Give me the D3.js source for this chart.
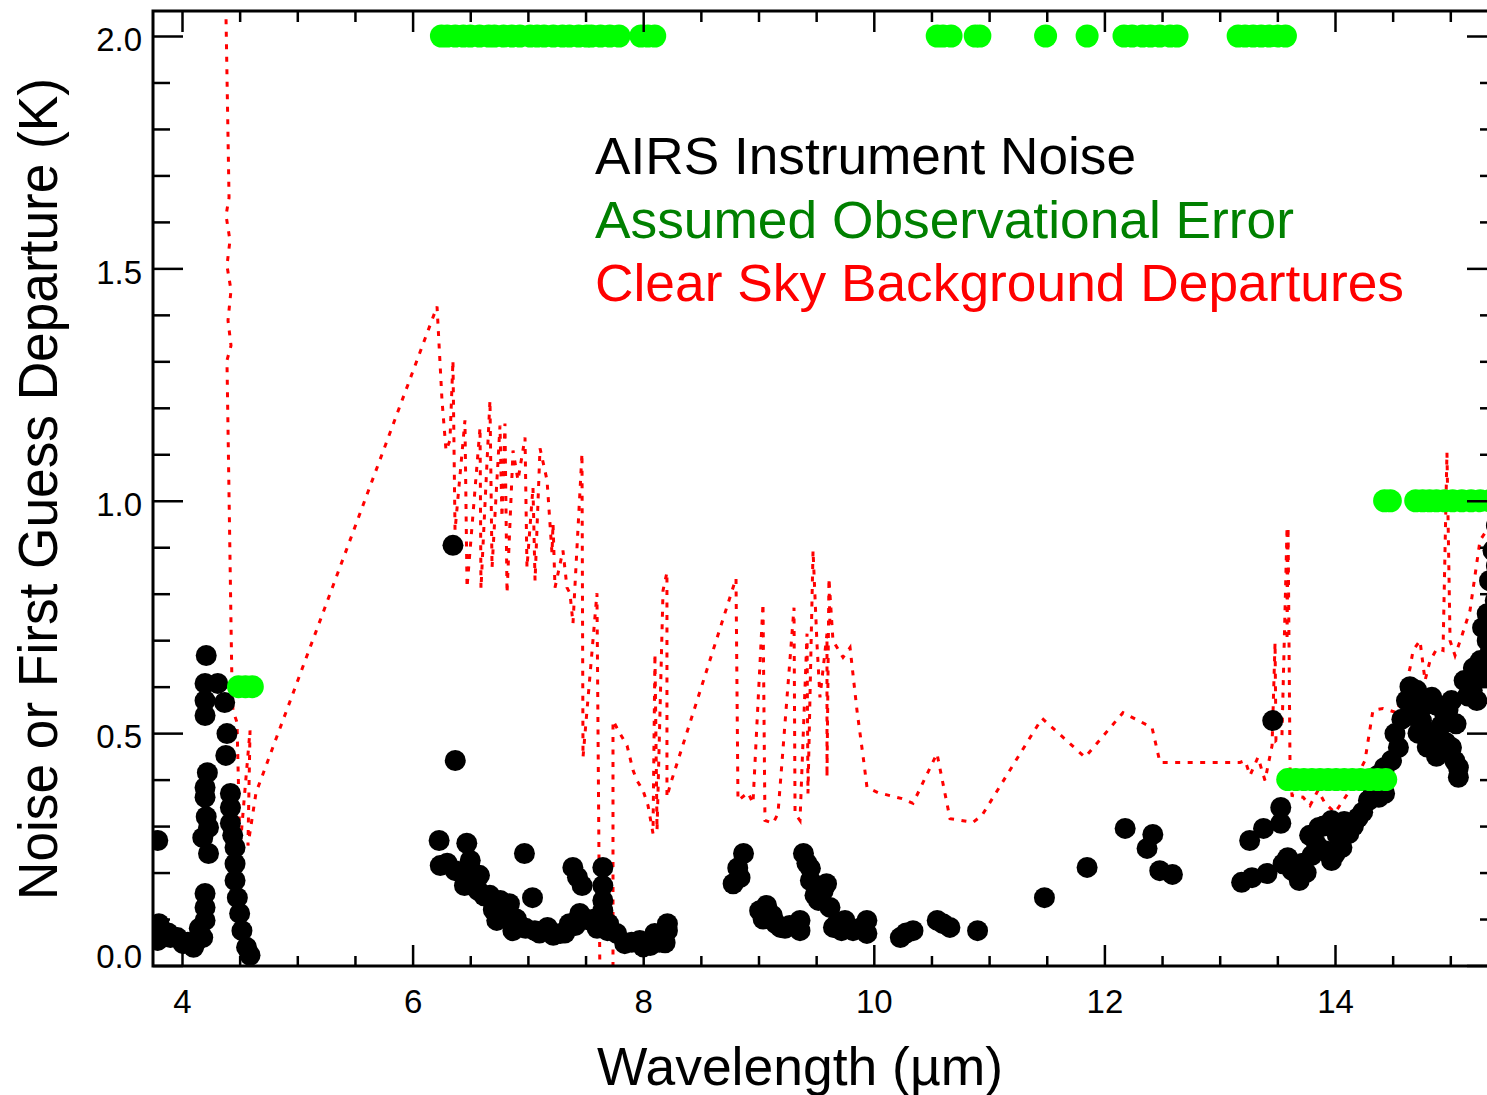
<!DOCTYPE html>
<html>
<head>
<meta charset="utf-8">
<style>
  body { margin: 0; background: #fff; }
  svg { display: block; }
  text { font-family: "Liberation Sans", Arial, sans-serif; }
</style>
</head>
<body>
<script src="https://cdn.jsdelivr.net/npm/d3@7/dist/d3.min.js"></script>
<script>

// AIRS instrument noise (black dots): wavelength (um) and noise (K)
var noiseWl = [
  3.79, 3.81, 3.79, 3.90, 4.01, 4.10, 4.18, 4.20, 4.20, 4.20, 4.23, 4.18, 4.23, 4.20, 4.20, 4.22,
  4.20, 4.20, 4.37, 4.20, 4.31, 4.21, 4.39, 4.38, 4.42, 4.42, 4.42, 4.46, 4.46, 4.46, 4.48, 4.50,
  4.52, 4.56, 4.59, 3.80, 3.88, 3.96, 4.05, 4.12, 4.15, 4.21, 4.44,
  6.35, 6.37, 6.23, 6.24, 6.47, 6.37, 6.50, 6.58, 6.45, 6.57, 6.67, 6.76, 6.84, 6.97, 7.04, 6.73,
  6.93, 7.17, 7.28, 7.39, 7.47, 7.65, 7.65, 7.65, 7.65, 7.45, 7.77, 8.10, 8.21, 8.21, 7.97, 7.06,
  6.84, 7.54, 7.84, 8.06, 8.19, 7.41, 6.87, 7.69, 6.50,
  6.30, 6.42, 6.53, 6.62, 6.70, 6.80, 6.90, 6.98, 7.10, 7.22, 7.32, 7.36, 7.50, 7.58, 7.70, 7.90,
  8.00, 8.14, 7.60, 7.43,
  8.87, 8.84, 8.78, 9.01, 9.07, 9.19, 9.36, 9.36, 9.39, 9.45, 9.45, 9.49, 9.59, 9.62, 9.65, 9.82,
  9.94, 9.94, 10.23, 10.34, 10.55, 10.66, 10.90, 11.48, 11.85, 9.12, 9.27, 9.75,
  8.82, 9.04, 9.15, 9.23, 9.31, 9.42, 9.52, 9.56, 9.68, 9.72, 9.88, 10.28, 10.60,
  12.18, 12.42, 12.37, 12.48, 12.59, 13.19, 13.28, 13.41, 13.26, 13.38, 13.53, 13.53, 13.59, 13.55,
  13.46, 13.97, 13.97, 14.06, 14.12, 14.20, 14.29, 14.38, 14.43, 13.86, 13.91, 13.80, 14.52, 14.55,
  14.49, 14.43, 14.37, 14.95, 14.84, 15.01, 15.07, 15.07, 14.84, 15.01, 15.12, 15.26, 15.32, 15.32,
  15.34, 15.37, 15.28, 14.71, 14.62, 14.66, 14.75, 14.92, 15.19, 15.23, 15.39, 15.40, 13.63, 13.69,
  13.72, 13.78, 13.84, 13.90, 14.02, 14.08, 14.16, 14.24, 14.33, 13.66, 13.75, 14.00,
  14.68, 14.78, 14.88, 14.98, 15.05, 15.15, 15.20, 15.28, 14.72, 14.80, 14.88, 14.96, 15.04, 14.58,
  14.65, 15.35, 15.30, 15.40, 15.40
];
var noiseK = [
  0.054, 0.075, 0.269, 0.060, 0.047, 0.039, 0.060, 0.097, 0.125, 0.155, 0.241, 0.275, 0.297, 0.362, 0.383, 0.415,
  0.538, 0.570, 0.566, 0.607, 0.607, 0.667, 0.499, 0.452, 0.370, 0.340, 0.306, 0.254, 0.219, 0.183, 0.146, 0.112,
  0.075, 0.039, 0.022, 0.090, 0.070, 0.060, 0.050, 0.050, 0.080, 0.320, 0.280,
  0.904, 0.441, 0.269, 0.215, 0.263, 0.204, 0.226, 0.194, 0.172, 0.161, 0.151, 0.140, 0.133, 0.241, 0.146, 0.097,
  0.086, 0.082, 0.069, 0.211, 0.172, 0.211, 0.172, 0.140, 0.118, 0.112, 0.069, 0.069, 0.075, 0.090, 0.054, 0.075,
  0.101, 0.097, 0.047, 0.043, 0.049, 0.086, 0.075, 0.075, 0.183,
  0.220, 0.200, 0.180, 0.150, 0.120, 0.115, 0.100, 0.080, 0.070, 0.065, 0.070, 0.090, 0.100, 0.100, 0.090, 0.050,
  0.040, 0.050, 0.080, 0.190,
  0.241, 0.189, 0.176, 0.118, 0.129, 0.082, 0.097, 0.075, 0.241, 0.209, 0.183, 0.151, 0.176, 0.125, 0.082, 0.075,
  0.069, 0.097, 0.060, 0.075, 0.097, 0.082, 0.075, 0.146, 0.211, 0.108, 0.086, 0.097,
  0.210, 0.100, 0.090, 0.080, 0.085, 0.220, 0.140, 0.160, 0.090, 0.075, 0.080, 0.070, 0.090,
  0.295, 0.282, 0.252, 0.204, 0.196, 0.179, 0.189, 0.198, 0.269, 0.295, 0.306, 0.340, 0.232, 0.219,
  0.527, 0.312, 0.226, 0.254, 0.284, 0.318, 0.355, 0.362, 0.370, 0.297, 0.247, 0.237, 0.499, 0.469,
  0.441, 0.426, 0.409, 0.542, 0.499, 0.469, 0.426, 0.405, 0.577, 0.570, 0.613, 0.656, 0.699, 0.757,
  0.828, 0.893, 0.727, 0.592, 0.570, 0.538, 0.527, 0.516, 0.592, 0.570, 0.785, 0.947, 0.204, 0.183,
  0.220, 0.280, 0.260, 0.300, 0.280, 0.310, 0.300, 0.330, 0.380, 0.210, 0.200, 0.240,
  0.560, 0.560, 0.560, 0.550, 0.520, 0.580, 0.640, 0.620, 0.500, 0.470, 0.450, 0.480, 0.440, 0.530,
  0.600, 0.680, 0.650, 0.860, 0.750
];

// assumed observational error (green dots)
var obsWl = [
  4.49, 4.55, 4.61,
  6.25, 6.30, 6.37, 6.44, 6.50, 6.58, 6.66, 6.71, 6.79, 6.86, 6.93, 7.02, 7.08, 7.14, 7.22, 7.30,
  7.36, 7.44, 7.51, 7.55, 7.63, 7.71, 7.79, 7.98, 8.04, 8.10,
  10.55, 10.60, 10.67, 10.88, 10.92, 11.49, 11.85,
  12.17, 12.24, 12.33, 12.40, 12.48, 12.57, 12.63,
  13.16, 13.22, 13.29, 13.36, 13.43, 13.50, 13.57,
  13.59, 13.66, 13.73, 13.80, 13.87, 13.94, 14.01, 14.08, 14.15, 14.22, 14.30, 14.37, 14.44,
  14.43, 14.48, 14.70, 14.76, 14.82, 14.88, 14.95, 15.02, 15.10, 15.18, 15.26, 15.34, 15.40
];
var obsK = [
  0.6, 0.6, 0.6,
  2.0, 2.0, 2.0, 2.0, 2.0, 2.0, 2.0, 2.0, 2.0, 2.0, 2.0, 2.0, 2.0, 2.0, 2.0, 2.0,
  2.0, 2.0, 2.0, 2.0, 2.0, 2.0, 2.0, 2.0, 2.0, 2.0,
  2.0, 2.0, 2.0, 2.0, 2.0, 2.0, 2.0,
  2.0, 2.0, 2.0, 2.0, 2.0, 2.0, 2.0,
  2.0, 2.0, 2.0, 2.0, 2.0, 2.0, 2.0,
  0.4, 0.4, 0.4, 0.4, 0.4, 0.4, 0.4, 0.4, 0.4, 0.4, 0.4, 0.4, 0.4,
  1.0, 1.0, 1.0, 1.0, 1.0, 1.0, 1.0, 1.0, 1.0, 1.0, 1.0, 1.0, 1.0
];

// clear sky background departures (red dotted line)
var depWl = [
  4.382, 4.408, 4.382, 4.416, 4.390, 4.425, 4.399, 4.425, 4.390, 4.434, 4.442, 4.477, 4.503, 4.590,
  4.572, 4.642, 6.212, 6.255, 6.290, 6.324, 6.350, 6.368, 6.454, 6.472, 6.585, 6.593, 6.671, 6.689,
  6.758, 6.775, 6.801, 6.819, 6.871, 6.914, 6.975, 6.992, 7.044, 7.062, 7.105, 7.166, 7.209, 7.218,
  7.235, 7.304, 7.339, 7.365, 7.391, 7.469, 7.478, 7.599, 7.625, 7.738, 7.738, 7.799, 7.860, 7.912,
  7.946, 7.998, 8.042, 8.085, 8.102, 8.120, 8.172, 8.206, 8.206, 8.232, 8.805, 8.822, 8.909, 8.952,
  9.039, 9.056, 9.126, 9.169, 9.308, 9.317, 9.360, 9.421, 9.429, 9.473, 9.507, 9.533, 9.594, 9.594,
  9.611, 9.620, 9.611, 9.646, 9.733, 9.794, 9.854, 9.915, 9.941, 10.036, 10.245, 10.340, 10.548,
  10.661, 10.860, 10.938, 11.459, 11.832, 12.161, 12.413, 12.482, 13.176, 13.220, 13.263, 13.332,
  13.393, 13.454, 13.480, 13.488, 13.540, 13.584, 13.584, 13.593, 13.610, 13.627, 13.723, 13.783,
  13.853, 13.913, 14.000, 14.130, 14.260, 14.329, 14.416, 14.538, 14.650, 14.677, 14.737, 14.781,
  14.824, 14.885, 14.937, 14.971, 14.998, 15.041, 15.101, 15.171, 15.258, 15.344
];
var depK = [
  2.036, 1.652, 1.614, 1.560, 1.506, 1.453, 1.388, 1.334, 1.302, 0.592, 0.549, 0.523, 0.252, 0.506,
  0.258, 0.372, 1.418, 1.216, 1.108, 1.130, 1.302, 0.936, 1.173, 0.813, 1.158, 0.811, 1.216, 0.856,
  1.162, 0.964, 1.166, 0.801, 1.108, 1.044, 1.136, 0.856, 1.029, 0.828, 1.113, 1.044, 0.887, 0.951,
  0.813, 0.893, 0.813, 0.801, 0.736, 1.102, 0.448, 0.801, -0.043, -0.043, 0.527, 0.499, 0.473, 0.420,
  0.398, 0.377, 0.344, 0.284, 0.671, 0.291, 0.807, 0.846, 0.362, 0.387, 0.833, 0.355, 0.372, 0.349,
  0.779, 0.312, 0.306, 0.327, 0.770, 0.327, 0.312, 0.714, 0.370, 0.893, 0.693, 0.577, 0.714, 0.405,
  0.833, 0.727, 0.833, 0.699, 0.663, 0.684, 0.549, 0.435, 0.383, 0.372, 0.359, 0.349, 0.456,
  0.316, 0.308, 0.323, 0.532, 0.448, 0.544, 0.512, 0.437, 0.437, 0.441, 0.409, 0.448,
  0.398, 0.473, 0.695, 0.484, 0.495, 0.943, 0.699, 0.943, 0.426, 0.366, 0.362, 0.344,
  0.377, 0.349, 0.329, 0.377, 0.441, 0.549, 0.553, 0.544, 0.639, 0.678, 0.699, 0.613,
  0.656, 0.682, 0.678, 1.104, 0.699, 0.667, 0.710, 0.764, 0.915, 0.947
];

var xTicks = [4, 6, 8, 10, 12, 14];
var yTicks = [0.0, 0.5, 1.0, 1.5, 2.0];
var legendLabels = ["AIRS Instrument Noise", "Assumed Observational Error", "Clear Sky Background Departures"];
var legendColors = ["#000000", "#008000", "#ff0000"];

var width = 1487, height = 1095;
// plot frame (right edge sits just outside the window, like the original)
var pLeft = 153, pRight = 1497, pTop = 11, pBottom = 966;

var x = d3.scaleLinear().domain([3.7485, 15.405]).range([pLeft, pRight]);
var y = d3.scaleLinear().domain([0, 2.0]).range([965.5, 36]);

var svg = d3.select("body").append("svg")
  .attr("width", width)
  .attr("height", height);

svg.append("defs").append("clipPath").attr("id", "plotclip")
  .append("rect")
  .attr("x", pLeft).attr("y", pTop)
  .attr("width", pRight - pLeft).attr("height", pBottom - pTop);

var plot = svg.append("g").attr("clip-path", "url(#plotclip)");

// red dotted departures line
var line = d3.line()
  .x(function(d) { return x(d[0]); })
  .y(function(d) { return y(d[1]); });

plot.append("path")
  .datum(d3.zip(depWl, depK))
  .attr("d", line)
  .attr("fill", "none")
  .attr("stroke", "#ff0000")
  .attr("stroke-width", 3)
  .attr("stroke-dasharray", "5,7.5");

// black noise dots
plot.append("g").selectAll("circle")
  .data(d3.zip(noiseWl, noiseK))
  .enter().append("circle")
    .attr("cx", function(d) { return x(d[0]); })
    .attr("cy", function(d) { return y(d[1]); })
    .attr("r", 10.5)
    .attr("fill", "#000");

// green observation error dots
plot.append("g").selectAll("circle")
  .data(d3.zip(obsWl, obsK))
  .enter().append("circle")
    .attr("cx", function(d) { return x(d[0]); })
    .attr("cy", function(d) { return y(d[1]); })
    .attr("r", 11.5)
    .attr("fill", "#00ff00");

// axes: major + minor ticks on all four sides
var xMinor = d3.range(4, 15.5, 0.5).filter(function(v) { return v % 2 != 0; });
var yMinor = d3.range(0, 21).map(function(i) { return i / 10; }).filter(function(v) { return Math.round(v * 10) % 5 != 0; });

function styleAxis(g) {
  g.select(".domain").remove();
  g.selectAll(".tick line").attr("stroke", "#000").attr("stroke-width", 2.5);
  g.selectAll(".tick text").attr("fill", "#000").style("font-size", "33px")
    .style("font-family", "'Liberation Sans', Arial, sans-serif");
}

svg.append("g").attr("transform", "translate(0," + pBottom + ")")
  .call(d3.axisBottom(x).tickValues(xTicks).tickSize(-21).tickPadding(24).tickFormat(d3.format("d")))
  .call(styleAxis);
svg.append("g").attr("transform", "translate(0," + pBottom + ")")
  .call(d3.axisBottom(x).tickValues(xMinor).tickSize(-10).tickFormat(""))
  .call(styleAxis);
svg.append("g").attr("transform", "translate(0," + pTop + ")")
  .call(d3.axisTop(x).tickValues(xTicks).tickSize(-21).tickFormat(""))
  .call(styleAxis);
svg.append("g").attr("transform", "translate(0," + pTop + ")")
  .call(d3.axisTop(x).tickValues(xMinor).tickSize(-11).tickFormat(""))
  .call(styleAxis);

var yAxis = svg.append("g").attr("transform", "translate(" + pLeft + ",0)")
  .call(d3.axisLeft(y).tickValues(yTicks).tickSize(-30).tickPadding(11).tickFormat(d3.format(".1f")))
  .call(styleAxis);
yAxis.selectAll(".tick text").attr("dy", "0.45em");
yAxis.selectAll(".tick text").filter(function(d) { return d === 0; }).attr("dy", "0.05em");

svg.append("g").attr("transform", "translate(" + pLeft + ",0)")
  .call(d3.axisLeft(y).tickValues(yMinor).tickSize(-17).tickFormat(""))
  .call(styleAxis);
svg.append("g").attr("transform", "translate(" + pRight + ",0)")
  .call(d3.axisRight(y).tickValues(yTicks).tickSize(-30).tickFormat(""))
  .call(styleAxis);
svg.append("g").attr("transform", "translate(" + pRight + ",0)")
  .call(d3.axisRight(y).tickValues(yMinor).tickSize(-17).tickFormat(""))
  .call(styleAxis);

// frame
svg.append("rect")
  .attr("x", pLeft).attr("y", pTop)
  .attr("width", pRight - pLeft).attr("height", pBottom - pTop)
  .attr("fill", "none")
  .attr("stroke", "#000")
  .attr("stroke-width", 3);

// axis titles
svg.append("text")
  .attr("x", 800).attr("y", 1085)
  .attr("text-anchor", "middle")
  .attr("textLength", 406)
  .attr("lengthAdjust", "spacingAndGlyphs")
  .style("font-size", "54px")
  .text("Wavelength (\u00b5m)");

svg.append("text")
  .attr("transform", "translate(57,489) rotate(-90)")
  .attr("text-anchor", "middle")
  .attr("textLength", 822)
  .attr("lengthAdjust", "spacingAndGlyphs")
  .style("font-size", "55px")
  .text("Noise or First Guess Departure (K)");

// legend text
var legendWidths = [541, 699, 809];
svg.append("g").selectAll("text")
  .data(legendLabels)
  .enter().append("text")
    .attr("x", 595)
    .attr("y", function(d, i) { return 174 + i * 63.5; })
    .attr("fill", function(d, i) { return legendColors[i]; })
    .attr("textLength", function(d, i) { return legendWidths[i]; })
    .attr("lengthAdjust", "spacingAndGlyphs")
    .style("font-size", "51px")
    .text(function(d) { return d; });

</script>
</body>
</html>
